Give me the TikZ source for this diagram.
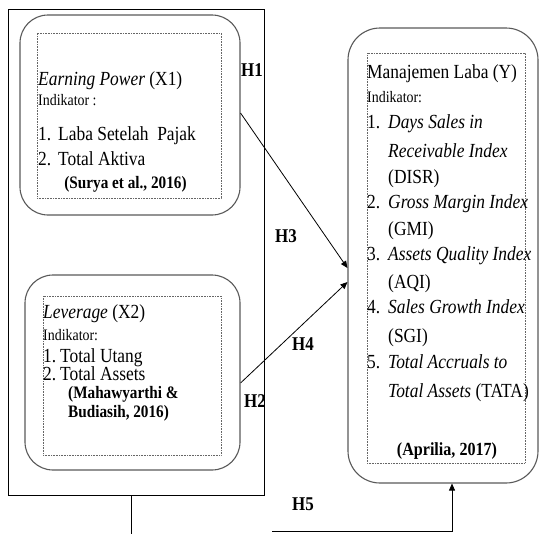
\documentclass[tikz,border=0pt]{standalone}
\usepackage{fontspec}
\setmainfont{Liberation Serif}[FakeStretch=0.87]
\usepackage{tikz}
\usetikzlibrary{arrows.meta}
\usetikzlibrary{positioning}
\newcommand{\bodysize}{\fontsize{20pt}{24pt}\selectfont}
\newcommand{\indsize}{\fontsize{16pt}{19pt}\selectfont}
\newcommand{\citesize}{\fontsize{17.5pt}{21pt}\selectfont}
\newcommand{\nr}[2][20pt]{\makebox[#1][l]{#2}}
\tikzset{
    varbox/.style={
        draw=black!65,
        line width=1.1pt,
        rounded corners=28pt,
        inner sep=0pt
    },
    dotbox/.style={
        draw=black!60,
        densely dotted,
        line width=0.6pt,
        inner sep=0pt
    },
    txt/.style={
        anchor=base west,
        inner sep=0pt,
        font=\bodysize
    },
    ind/.style={txt, font=\indsize},
    cite/.style={txt, font=\citesize\bfseries},
    hyp/.style={
        anchor=base west,
        inner sep=0pt,
        font=\fontsize{19.5pt}{23pt}\selectfont\bfseries
    },
    every edge/.style={
        draw,
        -{Triangle[length=7pt, width=6pt]},
        line width=0.8pt
    }
}

\begin{document}
\begin{tikzpicture}[x=1pt, y=-1pt]
    \useasboundingbox (0,0) rectangle (540,533);
    % Boxes
    \node[draw, line width=0.8pt, minimum width=256pt, minimum height=486pt, inner sep=0pt] (frame) at (136,252) {};
    \node[varbox, minimum width=220pt, minimum height=200pt] (x1box) at (130,115) {};
    \node[dotbox, minimum width=184pt, minimum height=165pt] (x1dots) at (129,115.5) {};
    \node[varbox, minimum width=215pt, minimum height=195pt] (x2box) at (132.5,372.5) {};
    \node[dotbox, minimum width=178pt, minimum height=159pt] (x2dots) at (132,375.5) {};
    \node[varbox, rounded corners=32pt, minimum width=190pt, minimum height=455pt] (ybox) at (443,255.5) {};
    \node[dotbox, minimum width=158pt, minimum height=410pt] (ydots) at (446,258) {};

    % Texts - X1
    \node[txt] (x1title) at (38,85) {\textit{Earning Power} (X1)};
    \node[ind] (x1ind) at (38,105) {Indikator :};
    \node[txt] (x1a) at (38,140) {\nr{1.}Laba Setelah~~Pajak};
    \node[txt] (x1b) at (38,165) {\nr{2.}Total Aktiva};
    \node[cite, anchor=base] (x1cite) at (125.5,188) {(Surya et al., 2016)};

    % Texts - X2
    \node[txt] (x2title) at (43,318) {\textit{Leverage} (X2)};
    \node[ind] (x2ind) at (43,340) {Indikator:};
    \node[txt] (x2a) at (43,362) {\nr[17pt]{1.}Total Utang};
    \node[txt] (x2b) at (43,380) {\nr[17pt]{2.}Total Assets};
    \node[cite] (x2cite) at (68,398) {(Mahawyarthi \&};
    \node[cite] (x2citeb) at (68,417) {Budiasih, 2016)};

    % Texts - Y
    \node[txt] (ytitle) at (367,78) {Manajemen Laba (Y)};
    \node[ind] (yind) at (367,102) {Indikator:};
    \node[txt] (ya) at (367,128) {\nr[21pt]{1.}\textit{Days Sales in}};
    \node[txt] (yab) at (388,157) {\textit{Receivable Index}};
    \node[txt] (yac) at (388,183) {(DISR)};
    \node[txt] (yb) at (367,208) {\nr[21pt]{2.}\textit{Gross Margin Index}};
    \node[txt] (ybb) at (388,235) {(GMI)};
    \node[txt] (yc) at (367,260) {\nr[21pt]{3.}\textit{Assets Quality Index}};
    \node[txt] (ycb) at (388,288) {(AQI)};
    \node[txt] (yd) at (367,313) {\nr[21pt]{4.}\textit{Sales Growth Index}};
    \node[txt] (ydb) at (388,342) {(SGI)};
    \node[txt] (ye) at (367,368) {\nr[21pt]{5.}\textit{Total Accruals to}};
    \node[txt] (yeb) at (388,397) {\textit{Total Assets} (TATA)};
    \node[cite, anchor=base, font=\fontsize{18.5pt}{22pt}\selectfont\bfseries] (ycite) at (447,455) {(Aprilia, 2017)};

    % Hypotheses
    \node[hyp] (h1) at (241,76) {H1};
    \node[hyp] (h3) at (275,242) {H3};
    \node[hyp] (h4) at (292,350) {H4};
    \node[hyp] (h2) at (244,407) {H2};
    \node[hyp] (h5) at (292,510) {H5};

    % Arrows
    \coordinate (h5drop) at (131,536);
    \coordinate (h5start) at (272,531.5);
    \draw ([yshift=2pt]x1box.east) edge ([yshift=-12.5pt]ybox.west);
    \draw ([yshift=-10.5pt]x2box.east) edge ([yshift=-26.5pt]ybox.west);
    \draw[line width=0.8pt] ([xshift=-5pt]frame.south) -- (h5drop);
    \draw[line width=0.8pt, -{Triangle[length=7pt, width=6pt]}] (h5start) -| ([xshift=9pt]ybox.south);
\end{tikzpicture}
\end{document}
